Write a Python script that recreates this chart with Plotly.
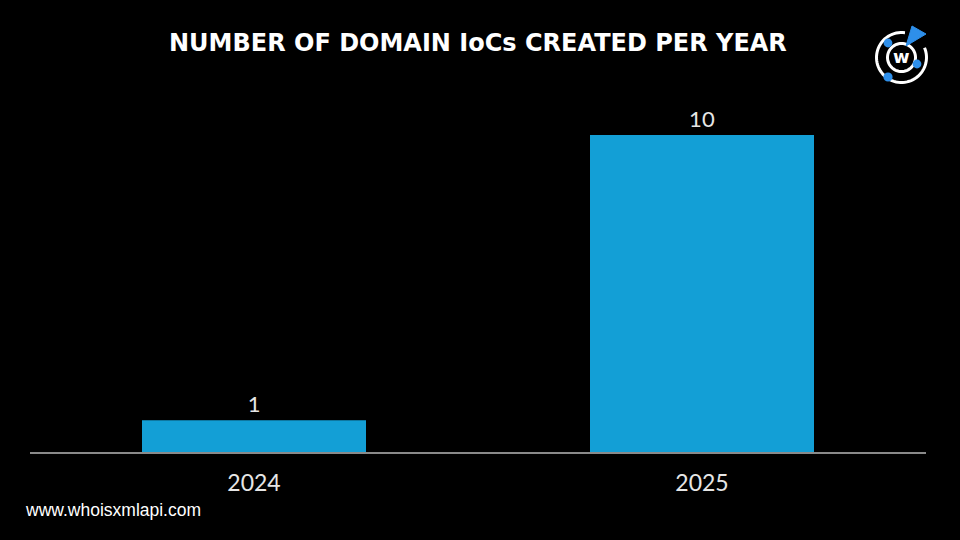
import math
import plotly.graph_objects as go

years = ["2024", "2025"]
counts = [1, 10]
title_text = "NUMBER OF DOMAIN IoCs CREATED PER YEAR"
footer_text = "www.whoisxmlapi.com"

BAR_BLUE = "#139FD6"
LOGO_BLUE = "#2E8FEA"

# plot area in pixels
L, R, T, B = 30, 34, 100, 88
W, H = 960, 540
pw, ph = W - L - R, H - T - B

def px(x):
    return (x - L) / pw

def py(y):
    return (H - B - y) / ph

fig = go.Figure(go.Bar(
    x=years, y=counts,
    marker=dict(color=BAR_BLUE, line=dict(width=0)),
    text=[str(v) for v in counts],
    textposition="outside",
    textfont=dict(family="Lato, Open Sans, sans-serif", size=22, color="#E6E6E6"),
    cliponaxis=False,
))

shapes = []
# logo
cx, cy = 901.5, 57.5

def arc_path(r, a0, a1, n=60):
    pts = []
    for i in range(n + 1):
        a = math.radians(a0 + (a1 - a0) * i / n)
        x = cx + r * math.cos(a)
        y = cy - r * math.sin(a)
        pts.append((px(x), py(y)))
    return "M " + " L ".join(f"{a:.5f},{b:.5f}" for a, b in pts)

shapes.append(dict(type="path", xref="paper", yref="paper",
                   path=arc_path(25, 82, 383), line=dict(color="white", width=3)))
shapes.append(dict(type="path", xref="paper", yref="paper",
                   path=arc_path(14, 0, 360), line=dict(color="white", width=3)))
# blue dots
for (dx, dy, r) in [(888, 43, 4.4), (917, 64, 4.4), (888, 77, 4.6)]:
    shapes.append(dict(type="circle", xref="paper", yref="paper",
                       x0=px(dx - r), x1=px(dx + r), y0=py(dy + r), y1=py(dy - r),
                       fillcolor=LOGO_BLUE, line=dict(width=0)))
# triangle
tri = [(912, 26), (926, 34), (906, 46)]
shapes.append(dict(type="path", xref="paper", yref="paper",
                   path="M " + " L ".join(f"{px(a):.5f},{py(b):.5f}" for a, b in tri) + " Z",
                   fillcolor=LOGO_BLUE, line=dict(color=LOGO_BLUE, width=1)))

annotations = [
    dict(text="<b>w</b>", x=px(901.5), y=py(56), xref="paper", yref="paper",
         showarrow=False, font=dict(family="DejaVu Sans", size=18, color="white"),
         xanchor="center", yanchor="middle"),
    dict(text=title_text, x=px(478), y=py(43), xref="paper", yref="paper",
         showarrow=False, font=dict(family="DejaVu Sans", size=24, color="white", weight="bold"),
         xanchor="center", yanchor="middle"),
    dict(text=footer_text, x=px(23), y=py(510), xref="paper", yref="paper",
         showarrow=False, font=dict(family="Liberation Sans, Arial", size=17.5, color="white"),
         xanchor="left", yanchor="middle"),
]

fig.update_layout(
    width=W, height=H,
    margin=dict(l=L, r=R, t=T, b=B),
    paper_bgcolor="black", plot_bgcolor="black",
    bargap=0.5,
    showlegend=False,
    shapes=shapes,
    annotations=annotations,
    xaxis=dict(showline=True, linecolor="#8A8A8A", linewidth=1.5, showgrid=False,
               ticks="", tickfont=dict(family="Lato, Open Sans, sans-serif", size=23, color="#E6E6E6"),
               ticklabelstandoff=10),
    yaxis=dict(range=[0, ph / 31.7], visible=False, showgrid=False, zeroline=False),
)

fig.write_html(
    "out.html",
    config={"displayModeBar": False},
    post_script="document.body.style.margin='0';document.body.style.background='black';",
)
